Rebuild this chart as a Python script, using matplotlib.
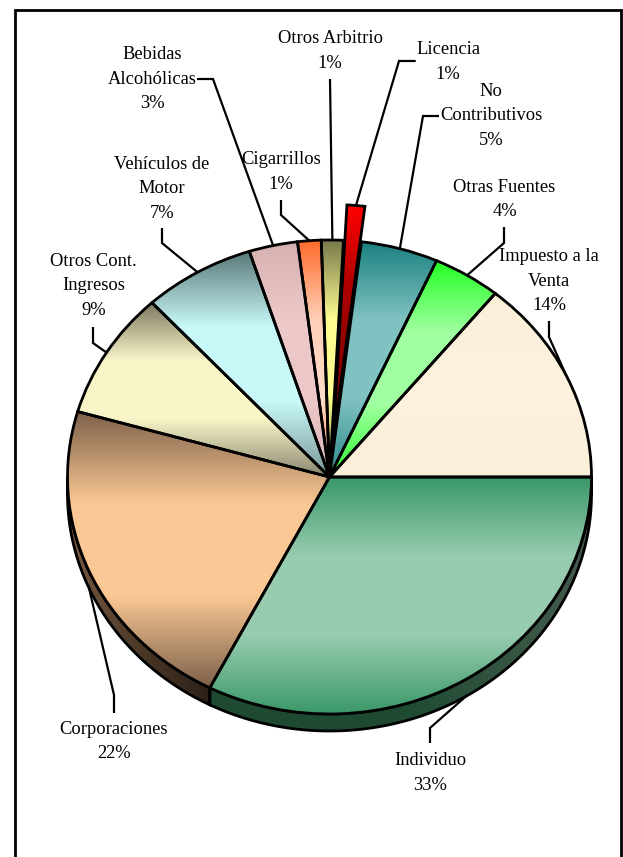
import numpy as np
import matplotlib
matplotlib.use('Agg')
import matplotlib.pyplot as plt
from matplotlib.colors import LinearSegmentedColormap
from matplotlib.patches import Polygon

# Data (clockwise from 3 o'clock)
categories = ['Individuo', 'Corporaciones', 'Otros Cont.\nIngresos', 'Vehículos de\nMotor',
              'Bebidas\nAlcohólicas', 'Cigarrillos', 'Otros Arbitrio', 'Licencia',
              'No\nContributivos', 'Otras Fuentes', 'Impuesto a la\nVenta']
values = [32.55, 21.9, 8.7, 6.9, 3.0, 1.45, 1.35, 1.1, 4.75, 4.2, 14.1]
explode = [0, 0, 0, 0, 0, 0, 0, 0.15, 0, 0, 0]

# Gradient stops (top -> bottom) of each slice face
face_grad = [
    ['#3a9868', '#98ccb0', '#98ccb0', '#3a9868'],
    ['#7d604a', '#fac894', '#fac894', '#7d604a'],
    ['#7c7860', '#f8f6c8', '#f8f6c8', '#8a8670'],
    ['#5a7878', '#c8f8f8', '#c8f8f8', '#7a9494'],
    ['#d4b0b0', '#ecc8c8', '#ecc8c8', '#d8b4b4'],
    ['#ff6a2a', '#ffd0b8', '#ffdcc8', '#ff8a55'],
    ['#77774a', '#fcfc90', '#fcfc90', '#8a8a50'],
    ['#ff0000', '#b00000', '#880000', '#700000'],
    ['#1b8080', '#80c2c2', '#80c2c2', '#2e8a8a'],
    ['#22ff22', '#a0ffa0', '#a0ffa0', '#30ff30'],
    ['#fcefd9', '#fdf1de', '#fdf1de', '#fcefd9'],
]
# side (depth) gradient, left -> right
side_grad = [
    ['#1e4a32', '#1e4a32', '#465c4e'],
    ['#7a5c44', '#4a3828', '#2c2018'],
    ['#5e5a48'] * 3, ['#4a6060'] * 3, ['#a08888'] * 3, ['#c05020'] * 3,
    ['#5a5a38'] * 3, ['#600000'] * 3, ['#145e5e'] * 3, ['#18b018'] * 3, ['#c8bca8'] * 3,
]

# label layout in pixels: first line centre and leader (elbow, end)
label_xy = [(430, 759), (114, 728), (93.5, 260), (162, 162.7), (152, 53.3), (281, 158.3),
            (330, 37.3), (448, 48.3), (491, 90), (504.5, 185.7), (549, 255)]
leaders = [[(430, 728), (430, 743)], [(114, 695), (114, 713)], [(93, 343), (93, 327)],
           [(162, 243), (162, 228)], [(213, 79), (197, 79)], [(281, 215), (281, 200)],
           [(330, 79)], [(399, 61), (415.7, 61)], [(423, 116), (439, 116)],
           [(504, 243), (504, 227)], [(549, 337), (549, 321)]]

W, H = 623, 857
CX, CY, RX, RY = 329.5, 477, 262, 237
DEPTH = 17 / RY
PITCH = 24.5


def px(x, y):
    return (x - CX) / RX, (CY - y) / RY


def grad_cmap(stops):
    return LinearSegmentedColormap.from_list('g', stops)


def main():
    fig = plt.figure(figsize=(W / 100, H / 100), dpi=100)
    ax = fig.add_axes([0, 0, 1, 1])
    ax.axis('off')

    wedges, _ = ax.pie(values, startangle=0, counterclock=False, explode=explode,
                       wedgeprops=dict(edgecolor='black', linewidth=2.0, facecolor='none', zorder=3))
    col = np.linspace(0, 1, 256).reshape(-1, 1)
    row = np.linspace(0, 1, 256).reshape(1, -1)

    for i, w in enumerate(wedges):
        w.set_zorder(3)
        w.set_facecolor('none')
        bb = w.get_path().get_extents()
        im = ax.imshow(col, cmap=grad_cmap(face_grad[i]), extent=[bb.x0, bb.x1, bb.y0, bb.y1],
                       origin='upper', aspect='auto', zorder=2, interpolation='bilinear')
        im.set_clip_path(w)

        # side of the 3D pie (lower half only)
        a = max(min(w.theta1, w.theta2), -180)
        b = min(max(w.theta1, w.theta2), 0)
        if b > a:
            t = np.radians(np.linspace(a, b, 100))
            cx, cy = w.center
            top = np.column_stack([cx + np.cos(t), cy + np.sin(t)])
            bot = top[::-1] - [0, DEPTH]
            poly = Polygon(np.vstack([top, bot]), closed=True, facecolor='none',
                           edgecolor='black', linewidth=2.0, zorder=1.5)
            ax.add_patch(poly)
            pb = poly.get_path().get_extents()
            sim = ax.imshow(row, cmap=grad_cmap(side_grad[i]), extent=[pb.x0, pb.x1, pb.y0, pb.y1],
                            aspect='auto', zorder=1, interpolation='bilinear')
            sim.set_clip_path(poly)

        # leader line from slice edge to label
        tm = np.radians((w.theta1 + w.theta2) / 2)
        ax0 = w.center[0] + np.cos(tm)
        ay0 = w.center[1] + np.sin(tm)
        if np.sin(tm) < 0:
            ay0 -= DEPTH
        pts = [(ax0, ay0)] + [px(*p) for p in leaders[i]]
        ax.plot([p[0] for p in pts], [p[1] for p in pts], color='black', lw=1.6,
                zorder=4, solid_capstyle='butt', solid_joinstyle='miter')

        # label text
        lines = categories[i].split('\n') + [f'{values[i]:.0f}%']
        lx, ly = label_xy[i]
        for k, s in enumerate(lines):
            tx, ty = px(lx, ly + k * PITCH + 6)
            ax.text(tx, ty, s, ha='center', va='baseline', fontsize=13.3,
                    family='Liberation Serif', color='black', zorder=5)

    # frame
    fx = [px(14.7, 900), px(14.7, 9.7), px(621.2, 9.7), px(621.2, 900)]
    ax.plot([p[0] for p in fx], [p[1] for p in fx], color='black', lw=2.0, clip_on=False,
            solid_joinstyle='miter')

    ax.set_aspect('auto')
    ax.set_xlim(px(0, 0)[0], px(W, 0)[0])
    ax.set_ylim(px(0, H)[1], px(0, 0)[1])
    fig.savefig('out.png', dpi=100, facecolor='white')


if __name__ == '__main__':
    main()
